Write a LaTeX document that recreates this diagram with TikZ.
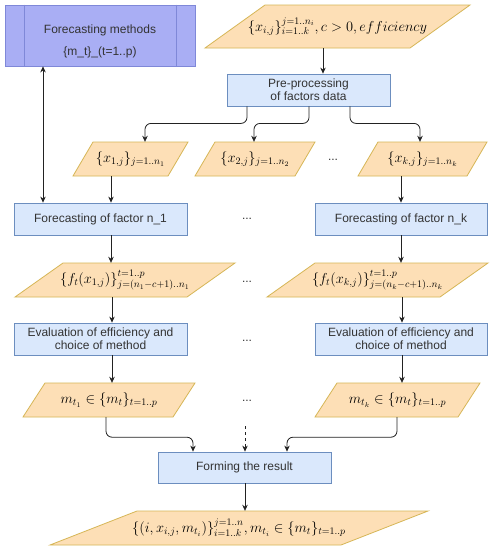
\documentclass[tikz,border=0pt]{standalone}
\usepackage[no-math]{fontspec}
\setmainfont{Liberation Sans}
\usetikzlibrary{arrows.meta,calc}
\definecolor{bfill}{HTML}{DAE8FC}
\definecolor{bdraw}{HTML}{6C8EBF}
\definecolor{ofill}{HTML}{FDDFB6}
\definecolor{odraw}{HTML}{D6B656}
\definecolor{pfill}{HTML}{A9AEF4}
\definecolor{pdraw}{HTML}{7F88D8}
\definecolor{txt}{HTML}{333333}
\definecolor{lnc}{HTML}{222222}
\newcommand\paranode[7]{%
 \filldraw[pshape] ({#2-#4/2+#6},{#3-#5/2}) -- ({#2+#4/2},{#3-#5/2}) -- ({#2+#4/2-#6},{#3+#5/2}) -- ({#2-#4/2},{#3+#5/2}) -- cycle;
 \node[ptext, minimum width=#4pt, minimum height=#5pt] (#1) at (#2,#3) {#7};}
\tikzset{
 pshape/.style={fill=ofill, draw=odraw, line width=0.8pt},
 ptext/.style={inner sep=0pt, text=black, font=\fontsize{14}{16}\selectfont},
 box/.style={draw=bdraw, fill=bfill, line width=0.8pt, inner sep=0pt, align=center, text=txt, font=\fontsize{12}{13}\selectfont},
 arr/.style={draw=lnc, line width=0.8pt, -{Stealth[length=6pt,width=5.5pt]}},
 dotsl/.style={text=txt, font=\fontsize{12}{13}\selectfont},
}
\begin{document}
\begin{tikzpicture}[x=1pt,y=-1pt]
\useasboundingbox (0,0) rectangle (492,550);
\fill[white] (0,0) rectangle (492,550);

% methods box
\node[box, fill=pfill, draw=pdraw, minimum width=190pt, minimum height=61pt] (meth) at (100,35.5) {};
\node[align=center, text=txt, font=\fontsize{12}{13}\selectfont, inner sep=0pt] (methtxt) at (100,41.5)
 {Forecasting methods\\[9pt]\{m\_t\}\_(t=1..p)};
\draw[pdraw, line width=0.8pt] (meth.north west) ++(20,0) coordinate (ml) -- (ml |- meth.south);
\draw[pdraw, line width=0.8pt] (meth.north east) ++(-19,0) coordinate (mr) -- (mr |- meth.south);

% input
\paranode{in}{337.5}{26.5}{265}{43}{60}{$\{x_{i,j}\}_{i=1..k}^{j=1..n_i}, c>0, efficiency$}
\node[box, minimum width=163pt, minimum height=32pt] (pre) at (308.5,90) {Pre-processing\\of factors data};

% data parallelograms
\paranode{p1}{130.5}{159}{115}{34}{20}{$\{x_{1,j}\}_{j=1..n_1}$}
\paranode{p2}{255}{159}{120}{34}{20}{$\{x_{2,j}\}_{j=1..n_2}$}
\paranode{pk}{422.5}{159}{129}{34}{20}{$\{x_{k,j}\}_{j=1..n_k}$}
\node[dotsl] (d0) at (333,160) {...};

% forecasting boxes
\node[box, minimum width=173pt, minimum height=32pt] (fc1) at (100.5,219) {Forecasting of factor n\_1};
\node[box, minimum width=172pt, minimum height=32pt] (fck) at (401,219) {Forecasting of factor n\_k};
\node[dotsl] (d1) at (247,219) {...};

% forecasts
\paranode{f1}{125}{280}{220}{34}{48}{$\{f_t(x_{1,j})\}_{j=(n_1-c+1)..n_1}^{t=1..p}$}
\paranode{fk}{377.5}{280}{221}{34}{48}{$\{f_t(x_{k,j})\}_{j=(n_k-c+1)..n_k}^{t=1..p}$}
\node[dotsl] (d2) at (247,282) {...};

% evaluation boxes
\node[box, minimum width=173pt, minimum height=32pt] (ev1) at (100.5,339) {Evaluation of efficiency and\\choice of method};
\node[box, minimum width=172pt, minimum height=32pt] (evk) at (401,339) {Evaluation of efficiency and\\choice of method};
\node[dotsl] (d3) at (247,341) {...};

% methods chosen
\paranode{m1}{109}{400}{172}{34}{22}{$m_{t_1}\in\{m_t\}_{t=1..p}$}
\paranode{mk}{397.5}{400}{165}{34}{22}{$m_{t_k}\in\{m_t\}_{t=1..p}$}
\node[dotsl] (d4) at (247,401) {...};

% forming
\node[box, minimum width=173pt, minimum height=31pt] (form) at (244.5,467.5) {Forming the result};
\paranode{out}{239}{528}{378}{34}{87}{$\{(i,x_{i,j},m_{t_i})\}_{i=1..k}^{j=1..n}, m_{t_i}\in\{m_t\}_{t=1..p}$}

% helper x positions
\coordinate (xa) at (323,0);
\coordinate (xb) at (247,0);
\coordinate (xc) at (309,0);
\coordinate (xd) at (350,0);
\coordinate (xl) at (43,0);
\coordinate (x1) at (111,0);
\coordinate (xk) at (401,0);
\coordinate (xm) at (245,0);
\coordinate (xm1) at (106,0);
\coordinate (xmk) at (397,0);

% connectors
\draw[arr] (in.south -| xa) -- (pre.north -| xa);
\draw[arr, rounded corners=6pt] (pre.south -| xb) -- ++(0,17) -| (p1.north -| 145,0);
\draw[arr, rounded corners=6pt] (pre.south -| xc) -- ++(0,17) -| (p2.north -| 254,0);
\draw[arr, rounded corners=6pt] (pre.south -| xd) -- ++(0,17) -| (pk.north -| 420,0);
\draw[arr, {Stealth[length=6pt,width=5.5pt]}-{Stealth[length=6pt,width=5.5pt]}] (meth.south -| xl) -- (fc1.north -| xl);
\draw[arr] (p1.south -| x1) -- (fc1.north -| x1);
\draw[arr] (pk.south -| xk) -- (fck.north -| xk);
\draw[arr] (fc1.south -| x1) -- (f1.north -| x1);
\draw[arr] (fck.south -| xk) -- (fk.north -| xk);
\draw[arr] (f1.south -| 112,0) -- (ev1.north -| 112,0);
\draw[arr] (fk.south -| 402,0) -- (evk.north -| 402,0);
\draw[arr] (ev1.south -| 112,0) -- (m1.north -| 112,0);
\draw[arr] (evk.south -| 402,0) -- (mk.north -| 402,0);
\draw[arr, rounded corners=6pt] (m1.south -| xm1) -- ++(0,20) -| (form.north -| 193,0);
\draw[arr, rounded corners=6pt] (mk.south -| xmk) -- ++(0,20) -| (form.north -| 287,0);
\draw[arr, dashed] (xm |- 0,426) coordinate (dtop) -- (form.north -| xm);
\draw[arr] (form.south -| xm) -- (out.north -| xm);
\end{tikzpicture}
\end{document}
